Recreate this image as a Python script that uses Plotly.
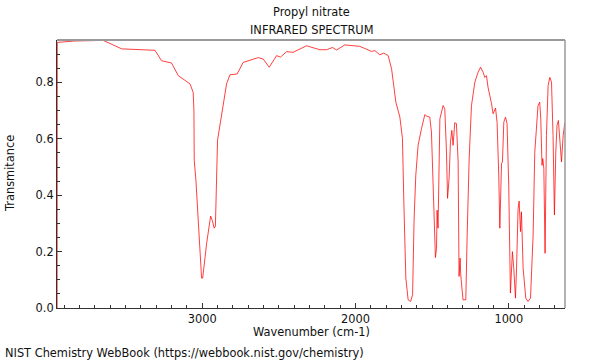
import plotly.graph_objects as go

# Wavenumber (cm-1) and transmittance
wavenumber = [3946, 3945, 3830, 3645, 3525, 3308, 3265, 3200, 3156, 3080, 3059, 3054, 3052, 3041,
              3026, 3004, 2997, 2971, 2945, 2934, 2922, 2914, 2900, 2874, 2841, 2819, 2772, 2733,
              2700, 2635, 2602, 2563, 2515, 2489, 2450, 2407, 2319, 2233, 2189, 2150, 2124, 2070,
              1972, 1896, 1874, 1842, 1816, 1787, 1765, 1737, 1711, 1694, 1685, 1672, 1657, 1641,
              1628, 1618, 1607, 1592, 1570, 1548, 1537, 1516, 1505, 1494, 1479, 1472, 1468, 1462,
              1450, 1429, 1418, 1407, 1400, 1390, 1381, 1372, 1364, 1353, 1342, 1331, 1325, 1318,
              1314, 1299, 1281, 1272, 1259, 1244, 1222, 1201, 1185, 1168, 1157, 1146, 1136, 1113,
              1103, 1087, 1077, 1066, 1059, 1048, 1042, 1033, 1022, 1012, 1001, 990, 977, 968,
              957, 950, 940, 933, 924, 918, 907, 890, 875, 859, 842, 831, 820, 810, 799, 792, 784,
              779, 772, 764, 755, 744, 733, 722, 712, 703, 694, 686, 677, 668, 657, 646, 635]
transmittance = [0.0, 0.942, 0.947, 0.949, 0.919, 0.914, 0.877, 0.869, 0.824, 0.795, 0.765, 0.70,
                 0.524, 0.453, 0.312, 0.106, 0.106, 0.23, 0.326, 0.31, 0.283, 0.29, 0.595, 0.677,
                 0.795, 0.827, 0.830, 0.871, 0.876, 0.888, 0.883, 0.854, 0.895, 0.890, 0.909,
                 0.907, 0.930, 0.916, 0.916, 0.924, 0.915, 0.933, 0.928, 0.910, 0.913, 0.898,
                 0.904, 0.895, 0.848, 0.730, 0.677, 0.601, 0.377, 0.106, 0.029, 0.023, 0.047,
                 0.318, 0.471, 0.577, 0.636, 0.686, 0.681, 0.677, 0.624, 0.400, 0.179, 0.212,
                 0.347, 0.283, 0.671, 0.718, 0.707, 0.553, 0.389, 0.459, 0.589, 0.630, 0.577,
                 0.657, 0.654, 0.518, 0.112, 0.177, 0.118, 0.029, 0.029, 0.259, 0.530, 0.718,
                 0.801, 0.836, 0.854, 0.836, 0.818, 0.824, 0.783, 0.724, 0.689, 0.709, 0.659,
                 0.471, 0.283, 0.512, 0.518, 0.659, 0.677, 0.654, 0.436, 0.053, 0.2, 0.141, 0.035,
                 0.141, 0.353, 0.379, 0.271, 0.341, 0.141, 0.035, 0.023, 0.035, 0.259, 0.553,
                 0.659, 0.718, 0.730, 0.671, 0.506, 0.530, 0.495, 0.194, 0.612, 0.789, 0.818,
                 0.801, 0.612, 0.330, 0.553, 0.648, 0.665, 0.589, 0.518, 0.612, 0.657]

x_ticks = [1000, 2000, 3000]
y_ticks = [0.0, 0.2, 0.4, 0.6, 0.8]
y_tick_labels = ["0.0", "0.2", "0.4", "0.6", "0.8"]

FONT = "DejaVu Sans"
FS = 11.4
AXC = "#333333"

fig = go.Figure()
fig.add_trace(go.Scatter(x=wavenumber, y=transmittance, mode="lines",
                         line=dict(color="rgba(255,0,0,0.75)", width=1), hoverinfo="skip"))

fig.update_layout(
    width=600, height=360,
    margin=dict(l=57, r=35, t=40, b=52),
    paper_bgcolor="white", plot_bgcolor="white",
    showlegend=False,
    font=dict(family=FONT, size=FS, color="#111111"),
    xaxis=dict(range=[3947, 634], tickvals=x_ticks, ticktext=[str(v) for v in x_ticks],
               ticks="inside", ticklen=5, tickwidth=1, tickcolor=AXC,
               showline=True, linecolor=AXC, linewidth=1, showgrid=False, zeroline=False,
               minor=dict(dtick=100, tick0=0, ticks="inside", ticklen=3, tickcolor=AXC, showgrid=False),
               tickfont=dict(family=FONT, size=FS)),
    yaxis=dict(range=[0, 0.9505], tickvals=y_ticks, ticktext=y_tick_labels,
               ticks="inside", ticklen=5, tickwidth=1, tickcolor=AXC,
               showline=True, linecolor=AXC, linewidth=1, showgrid=False, zeroline=False,
               minor=dict(dtick=0.05, tick0=0, ticks="inside", ticklen=3, tickcolor=AXC, showgrid=False),
               tickfont=dict(family=FONT, size=FS)),
    shapes=[
        dict(type="line", xref="paper", yref="paper", x0=0, x1=1, y0=1, y1=1,
             line=dict(color="#9a9a9a", width=2)),
        dict(type="line", xref="paper", yref="paper", x0=1, x1=1, y0=0, y1=1,
             line=dict(color="#9a9a9a", width=1.5)),
    ],
    annotations=[
        dict(text="Propyl nitrate", xref="paper", yref="paper", x=0.5, y=1.1045,
             xanchor="center", yanchor="middle", showarrow=False, font=dict(size=FS)),
        dict(text="INFRARED SPECTRUM", xref="paper", yref="paper", x=0.5, y=1.037,
             xanchor="center", yanchor="middle", showarrow=False, font=dict(size=FS)),
        dict(text="Wavenumber (cm-1)", xref="paper", yref="paper", x=0.5, y=-0.0896,
             xanchor="center", yanchor="middle", showarrow=False, font=dict(size=FS)),
        dict(text="Transmitance", xref="paper", yref="paper", x=-0.0925, y=0.5,
             xanchor="center", yanchor="middle", textangle=-90, showarrow=False, font=dict(size=FS)),
        dict(text="NIST Chemistry WebBook (https://webbook.nist.gov/chemistry)", xref="paper",
             yref="paper", x=-0.1063, y=-0.168, xanchor="left", yanchor="middle",
             showarrow=False, font=dict(size=FS)),
    ],
)

fig.write_html("out.html", config={"displayModeBar": False, "staticPlot": True},
               post_script="document.body.style.margin='0';document.body.style.overflow='hidden';")
